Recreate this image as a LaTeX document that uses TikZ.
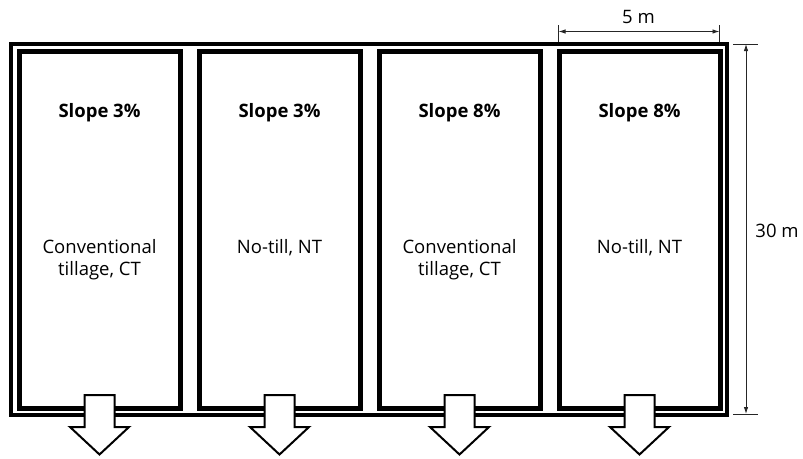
\documentclass[tikz,border=0pt]{standalone}
\usepackage{fontspec}
\setmainfont{Open Sans}
\usetikzlibrary{arrows.meta}
\begin{document}
\begin{tikzpicture}[x=1pt,y=-1pt,
  outer/.style={draw=black,line width=4pt},
  plotbox/.style={draw=black,line width=5pt,minimum width=161pt,minimum height=356.5pt,inner sep=0pt},
  flow/.style={draw=black,fill=white,line width=2pt,line join=miter},
  dim/.style={draw=black!85,line width=0.9pt},
  dimarrow/.style={dim,{Latex[length=7pt,width=4.5pt]}-{Latex[length=7pt,width=4.5pt]}},
  lab/.style={font=\fontsize{18.5}{22}\selectfont,anchor=base,inner sep=0pt},
  ttl/.style={font=\fontsize{18.5}{22}\selectfont\bfseries,anchor=base,inner sep=0pt}]
\useasboundingbox (0,0) rectangle (803,458);
% outer frame
\draw[outer] (11,44) rectangle (727,414.5);
% plots
\foreach \i in {0,1,2,3} {
  \node[plotbox] (box\i) at (99.5+180*\i,229.75) {};
}
% flow arrows
\foreach \i in {0,1,2,3} {
  \coordinate (c\i) at (99.5+180*\i,395);
  \draw[flow] (c\i) ++(-15,0) -- ++(30,0) -- ++(0,32) -- ++(14.5,0)
     -- ++(-29.5,27.5) -- ++(-29.5,-27.5) -- ++(14.5,0) -- cycle;
}
% labels
\node[ttl] (s0) at (99.5,117) {Slope 3\%};
\node[ttl] (s1) at (279.5,117) {Slope 3\%};
\node[ttl] (s2) at (459.5,117) {Slope 8\%};
\node[ttl] (s3) at (639.5,117) {Slope 8\%};
\node[lab] (t0a) at (99.5,253) {Conventional};
\node[lab] (t0b) at (99.5,275) {tillage, CT};
\node[lab] (t1) at (279.5,253) {No-till, NT};
\node[lab] (t2a) at (459.5,253) {Conventional};
\node[lab] (t2b) at (459.5,275) {tillage, CT};
\node[lab] (t3) at (639.5,253) {No-till, NT};
% dimension 5 m
\coordinate (h1t) at (558.5,25);
\coordinate (h1b) at (558.5,42);
\coordinate (h2t) at (719.5,25);
\coordinate (h2b) at (719.5,42);
\coordinate (h1) at (558.5,31.5);
\coordinate (h2) at (719.5,31.5);
\draw[dim] (h1t) -- (h1b);
\draw[dim] (h2t) -- (h2b);
\draw[dimarrow] (h1) -- (h2);
\node[lab] (w) at (638.5,23) {5 m};
% dimension 30 m
\coordinate (v1l) at (733,44);
\coordinate (v1r) at (758,44);
\coordinate (v2l) at (733,414);
\coordinate (v2r) at (758,414);
\coordinate (v1) at (746,44);
\coordinate (v2) at (746,414);
\draw[dim] (v1l) -- (v1r);
\draw[dim] (v2l) -- (v2r);
\draw[dimarrow] (v1) -- (v2);
\node[lab] (hgt) at (777,237) {30 m};
\end{tikzpicture}
\end{document}
